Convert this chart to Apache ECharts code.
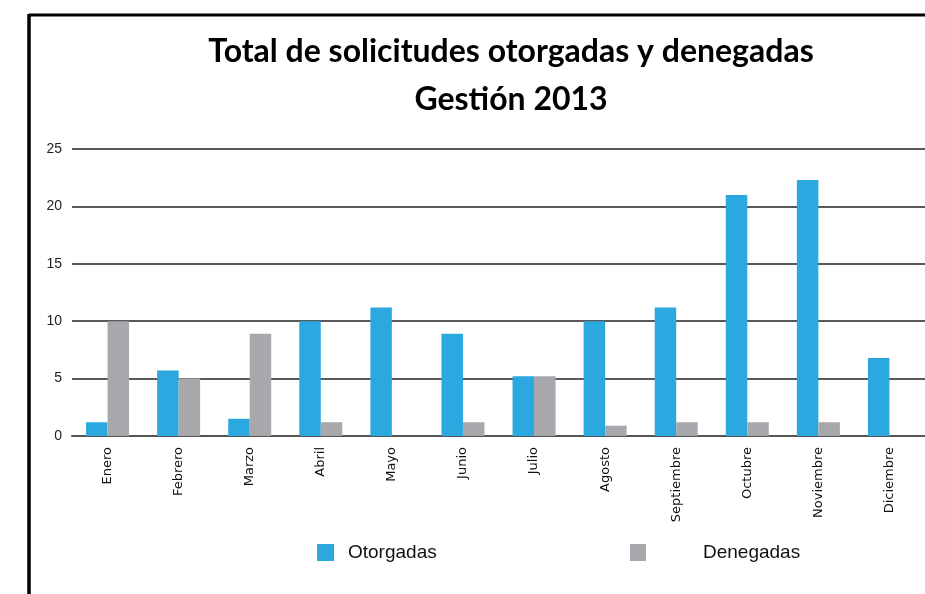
<!DOCTYPE html>
<html>
<head>
<meta charset="utf-8">
<script src="https://cdn.jsdelivr.net/npm/echarts@6/dist/echarts.min.js"></script>
<style>
html,body{margin:0;padding:0;background:#fff;}
#chart{width:925px;height:594px;}
</style>
</head>
<body>
<div id="chart"></div>
<script>
var months = ['Enero','Febrero','Marzo','Abril','Mayo','Junio','Julio','Agosto','Septiembre','Octubre','Noviembre','Diciembre'];
var otorgadas = [1.2, 5.7, 1.5, 10, 11.2, 8.9, 5.2, 10, 11.2, 21, 22.3, 6.8];
var denegadas = [10, 5, 8.9, 1.2, 0, 1.2, 5.2, 0.9, 1.2, 1.2, 1.2, 0];
var yTicks = [0, 5, 10, 15, 20, 25];
var titleLines = ['Total de solicitudes otorgadas y denegadas', 'Gestión 2013'];

var chart = echarts.init(document.getElementById('chart'), null, {renderer:'canvas'});
var option = {
  animation: false,
  backgroundColor: '#fff',
  title: {
    text: titleLines.join('\n'),
    left: 506, top: 23, textAlign: 'center',
    textStyle: {fontFamily: 'Lato', fontWeight: 'bold', fontSize: 32, lineHeight: 48, color: '#000'}
  },
  legend: [
    {data: ['Otorgadas'], left: 312, top: 538, itemWidth: 17, itemHeight: 17, icon: 'rect',
     textStyle: {fontFamily: 'Liberation Sans', fontSize: 19, color: '#111', padding: [0,0,0,9]}},
    {data: ['Denegadas'], left: 625, top: 538, itemWidth: 16, itemHeight: 17, icon: 'rect',
     textStyle: {fontFamily: 'Liberation Sans', fontSize: 19, color: '#111', padding: [0,0,0,52]}}
  ],
  grid: {left: 72, width: 857, top: 149, height: 287, containLabel: false},
  xAxis: {
    type: 'category', data: months,
    axisLine: {show: true, lineStyle: {color: '#555', width: 2}},
    axisTick: {show: false},
    axisLabel: {rotate: 90, margin: 11, fontFamily: 'DejaVu Sans', fontSize: 13, color: '#111'}
  },
  yAxis: {
    type: 'value', min: yTicks[0], max: yTicks[yTicks.length-1], interval: 5,
    axisLine: {show: false}, axisTick: {show: false},
    axisLabel: {margin: 10, fontFamily: 'Liberation Sans', fontSize: 14, color: '#222'},
    splitLine: {lineStyle: {color: '#222', width: 1.5}}
  },
  series: [
    {name: 'Otorgadas', type: 'bar', data: otorgadas, barWidth: 21.5, barGap: '0%',
     itemStyle: {color: '#2ca8e0'}},
    {name: 'Denegadas', type: 'bar', data: denegadas, barWidth: 21.5, barGap: '0%',
     itemStyle: {color: '#a7a8ab'}}
  ],
  graphic: [
    {type: 'line', shape: {x1: 29, y1: 15, x2: 925, y2: 15}, style: {stroke: '#000', lineWidth: 3}},
    {type: 'line', shape: {x1: 29, y1: 14, x2: 29, y2: 594}, style: {stroke: '#000', lineWidth: 3.5}}
  ]
};
chart.setOption(option);
</script>
</body>
</html>
